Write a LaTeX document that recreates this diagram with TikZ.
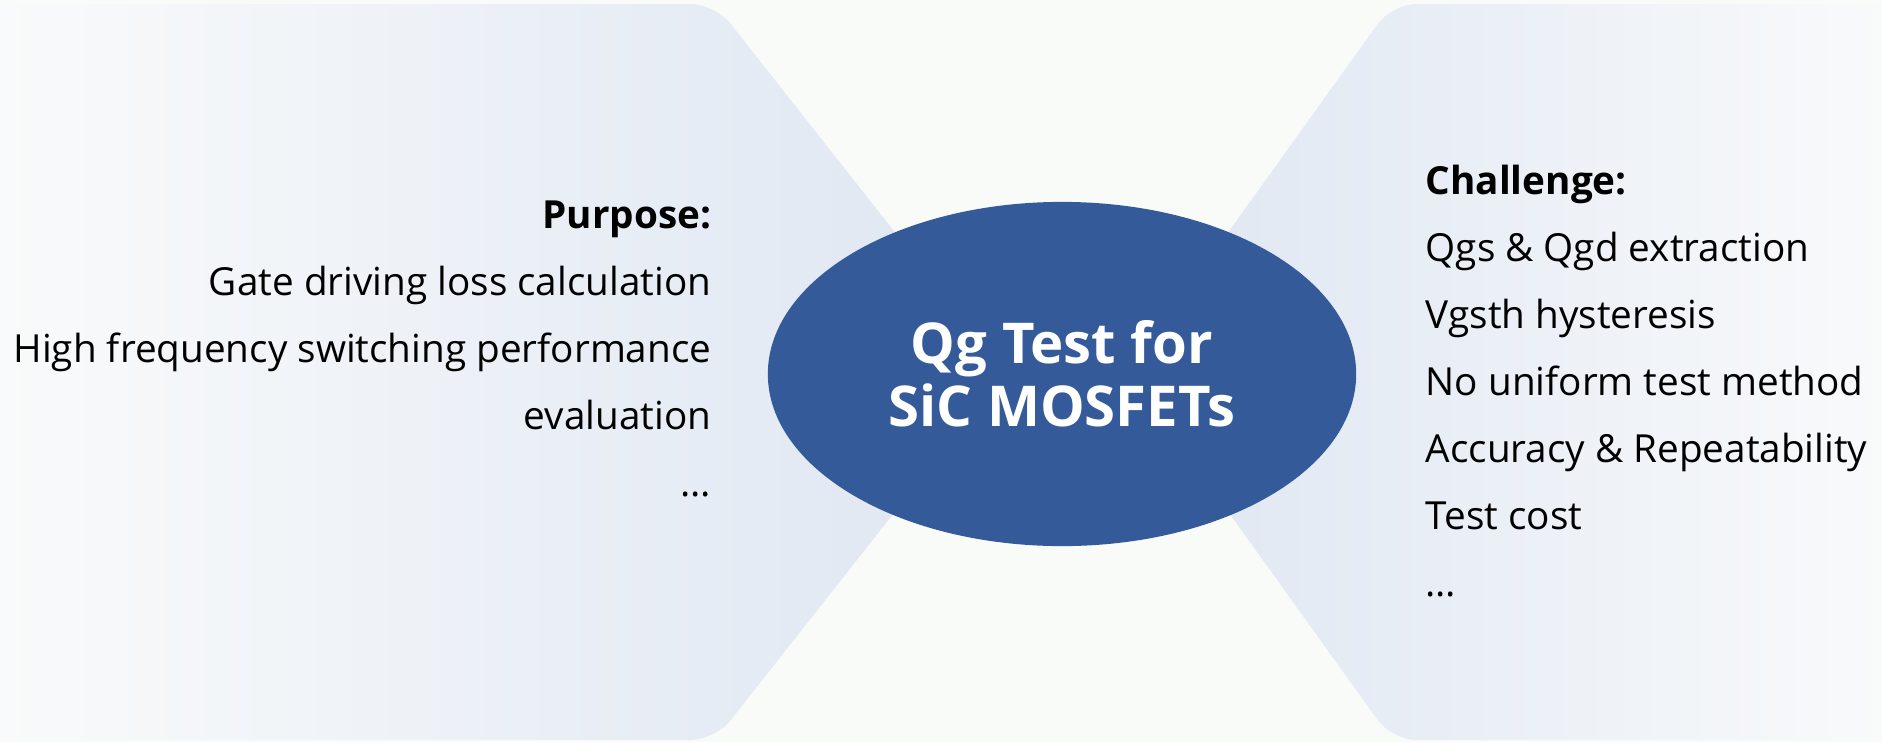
\documentclass[tikz,border=0pt]{standalone}
\usepackage{fontspec}
\setmainfont{Open Sans}
\usetikzlibrary{shapes.geometric}
\definecolor{bgwhite}{RGB}{249,251,249}
\definecolor{panelpale}{RGB}{250,251,251}
\definecolor{panelblue}{RGB}{222,230,242}
\definecolor{coreblue}{RGB}{53,90,153}
\tikzset{itemtext/.style={font=\fontsize{11}{13}\selectfont, text=black, inner sep=0pt}}
\tikzset{corelabel/.style={ellipse, fill=coreblue, text=white, inner sep=0pt,
			minimum width=5.88cm, minimum height=3.44cm, align=center,
			font=\fontsize{16}{17.9}\selectfont\bfseries}}

\begin{document}
\begin{tikzpicture}[x=0.01cm,y=-0.01cm]
		\fill[bgwhite] (0,0) rectangle (1882,742);
		\useasboundingbox (0,0) rectangle (1882,742);
		
		% the two side panels
		\begin{scope}
			\clip (0,0) rectangle (1882,742);
			\shade[left color=panelpale, right color=panelblue, rounded corners=7pt]
				(-40,4) -- (715,4) -- (1005,372) -- (715,740) -- (-40,740) -- cycle;
			\shade[left color=panelblue, right color=panelpale, rounded corners=7pt]
				(1922,4) -- (1392,4) -- (1128,372) -- (1392,740) -- (1922,740) -- cycle;
		\end{scope}
		
		\node[corelabel] (core) at (1062,374) {Qg Test for\\SiC MOSFETs};
		
		% purpose list, right aligned
		\foreach \txt [count=\i] in {\textbf{Purpose:}, Gate driving loss calculation,
			High frequency switching performance, evaluation, \ldots}
			\node[itemtext, anchor=base east] (purpose\i) at (712, 228+67*\i-67) {\txt};
		
		% challenge list, left aligned
		\foreach \txt [count=\i] in {\textbf{Challenge:}, Qgs \& Qgd extraction,
			Vgsth hysteresis, No uniform test method, Accuracy \& Repeatability,
			Test cost, \ldots}
			\node[itemtext, anchor=base west] (challenge\i) at (1425, 194+67*\i-67) {\txt};
		
		%		\draw[very thin,color=gray] (0,0) grid[step=100] (1882,742);
\end{tikzpicture}
\end{document}
